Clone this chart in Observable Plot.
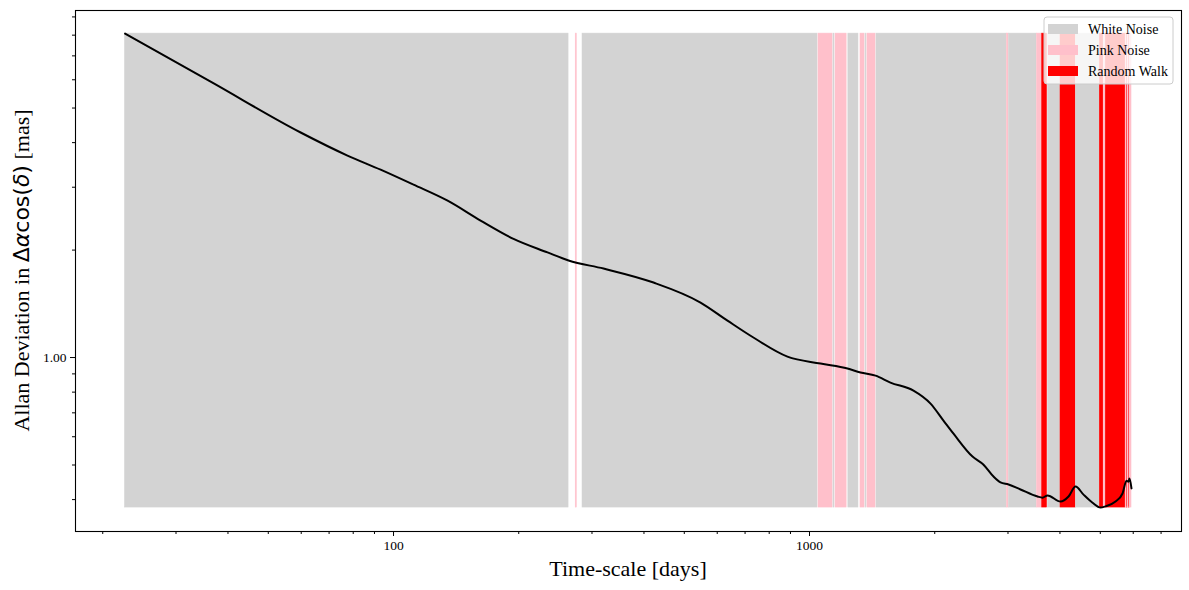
<!DOCTYPE html>
<html>
<head>
<meta charset="utf-8">
<script src="https://cdn.jsdelivr.net/npm/d3@7"></script>
<script src="https://cdn.jsdelivr.net/npm/@observablehq/plot@0.6"></script>
<style>
  html, body { margin: 0; padding: 0; background: white; }
  #chart { width: 1189px; height: 590px; }
</style>
</head>
<body>
<div id="chart"></div>
<script>
// Allan deviation curve (time-scale in days, deviation in mas)
const tau = [22.63, 36.7, 59.8, 77.5, 93.1, 111.7, 134.9, 161.9, 194.3, 234.5, 263.5, 319.8, 421.7, 547, 635, 733, 885, 1063, 1234, 1326, 1441, 1565, 1778, 1954, 2099, 2219, 2465, 2620, 2769, 2878, 3009, 3215, 3533, 3632, 3734, 4012, 4194, 4360, 4557, 4790, 5006, 5146, 5440, 5655, 5781, 5845, 5877, 5943];
const adev = [8.08, 5.89, 4.27, 3.68, 3.36, 3.05, 2.75, 2.42, 2.15, 1.97, 1.87, 1.775, 1.622, 1.426, 1.269, 1.138, 1.006, 0.962, 0.932, 0.908, 0.890, 0.851, 0.808, 0.743, 0.666, 0.612, 0.528, 0.501, 0.464, 0.447, 0.441, 0.427, 0.408, 0.405, 0.411, 0.395, 0.408, 0.435, 0.413, 0.392, 0.380, 0.383, 0.395, 0.416, 0.452, 0.449, 0.458, 0.430];

// Noise-type classification intervals along the time-scale
const bandStart = [22.63, 274.2, 284.7, 1051, 1142, 1155, 1240, 1326, 1364, 1378, 1449, 2984, 3017, 3523, 3626, 3745, 4012, 4372, 4988, 5097, 5154, 5755, 5795, 5812, 5860, 5877];
const bandEnd   = [263.5, 275.7, 1045, 1136, 1148, 1228, 1311, 1356, 1370, 1441, 2976, 3008, 3513, 3626, 3722, 4002, 4360, 4979, 5088, 5145, 5750, 5795, 5812, 5860, 5877, 5943];
const bandType  = ["White Noise", "Pink Noise", "White Noise", "Pink Noise", "White Noise", "Pink Noise", "White Noise", "Pink Noise", "White Noise", "Pink Noise", "White Noise", "Pink Noise", "White Noise", "Pink Noise", "Random Walk", "White Noise", "Random Walk", "White Noise", "Random Walk", "Pink Noise", "Random Walk", "Pink Noise", "Random Walk", "Pink Noise", "Random Walk", "Pink Noise"];

const noiseTypes = ["White Noise", "Pink Noise", "Random Walk"];
const noiseColors = ["lightgray", "pink", "red"];

const xMajor = [100, 1000];
const xMinor = [20, 30, 40, 50, 60, 70, 80, 90, 200, 300, 400, 500, 600, 700, 800, 900, 2000, 3000, 4000, 5000, 6000, 7000];
const yMajor = [1];
const yMinor = [0.4, 0.5, 0.6, 0.7, 0.8, 0.9, 2, 3, 4, 5, 6, 7, 8, 9];

const curve = tau.map((t, i) => ({tau: t, val: adev[i]}));
const yLo = d3.min(adev), yHi = d3.max(adev);
const bands = bandStart.map((s, i) => ({x1: s, x2: bandEnd[i], type: bandType[i], y1: yLo, y2: yHi}));

const W = 1189, H = 590;
const mL = 75, mR = 8, mT = 10, mB = 59;

const svg = Plot.plot({
  width: W, height: H,
  marginLeft: mL, marginRight: mR, marginTop: mT, marginBottom: mB,
  style: {fontFamily: "Liberation Serif", fontSize: "13px", background: "white", color: "black"},
  x: {type: "log", domain: [17.2, 7838], label: null},
  y: {type: "log", domain: [0.3256, 9.38], label: null},
  color: {domain: noiseTypes, range: noiseColors},
  marks: [
    Plot.rect(bands, {x1: "x1", x2: "x2", y1: "y1", y2: "y2", fill: "type", stroke: "type", strokeWidth: 0.6}),
    Plot.line(curve, {x: "tau", y: "val", stroke: "black", strokeWidth: 2, curve: "monotone-x"}),
    Plot.frame({stroke: "black", strokeWidth: 1.1}),
    Plot.axisX({ticks: xMajor, tickSize: 5, tickPadding: 4, tickFormat: d => String(d), label: null, fontSize: 13}),
    Plot.axisX({ticks: xMinor, tickSize: 3, tickFormat: () => "", label: null}),
    Plot.axisY({ticks: yMajor, tickSize: 5, tickPadding: 4, tickFormat: d => d.toFixed(2), label: null, fontSize: 13}),
    Plot.axisY({ticks: yMinor, tickSize: 3, tickFormat: () => "", label: null})
  ]
});

document.getElementById("chart").appendChild(svg);

const s = d3.select(svg);
s.selectAll("g[aria-label$='tick label'], g[aria-label$='tick label'] text")
  .attr("font-size", 13.5)
  .style("font-size", "13.5px")
  .style("font-family", "Liberation Serif");

// x-axis label
s.append("text")
  .attr("x", (mL + W - mR) / 2)
  .attr("y", 576)
  .attr("text-anchor", "middle")
  .style("font-family", "Liberation Serif")
  .style("font-size", "22px")
  .text("Time-scale [days]");

// y-axis label with math part
const yl = s.append("text")
  .attr("transform", `translate(29,${(mT + H - mB) / 2}) rotate(-90)`)
  .attr("text-anchor", "middle")
  .style("font-family", "Liberation Serif")
  .style("font-size", "22px");
yl.append("tspan").text("Allan Deviation in ");
yl.append("tspan").style("font-family", "DejaVu Sans").text("Δ");
yl.append("tspan").style("font-family", "DejaVu Sans").style("font-style", "italic").text("α");
yl.append("tspan").style("font-family", "DejaVu Sans").text("cos(");
yl.append("tspan").style("font-family", "DejaVu Sans").style("font-style", "italic").text("δ");
yl.append("tspan").style("font-family", "DejaVu Sans").text(")");
yl.append("tspan").text(" [mas]");

// legend
const lg = s.append("g").attr("transform", "translate(1044,17)");
lg.append("rect")
  .attr("width", 129).attr("height", 67)
  .attr("rx", 3).attr("ry", 3)
  .attr("fill", "white").attr("fill-opacity", 0.8)
  .attr("stroke", "#cccccc").attr("stroke-width", 1);
noiseTypes.forEach((t, i) => {
  const yy = 7 + i * 21;
  lg.append("rect").attr("x", 4).attr("y", yy).attr("width", 30).attr("height", 10).attr("fill", noiseColors[i]);
  lg.append("text").attr("x", 44).attr("y", yy + 10)
    .attr("text-anchor", "start")
    .style("font-family", "Liberation Serif").style("font-size", "14px").text(t);
});
</script>
</body>
</html>
